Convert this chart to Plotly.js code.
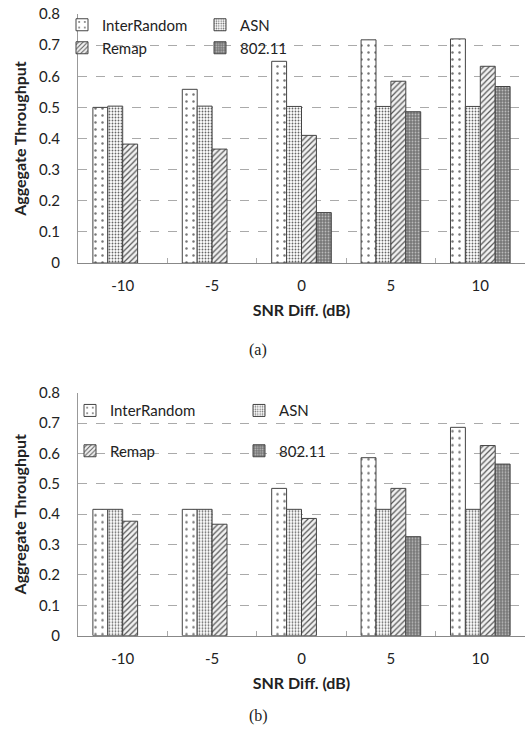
<!DOCTYPE html>
<html>
<head>
<meta charset="utf-8">
<script src="https://cdn.plot.ly/plotly-3.0.1.min.js"></script>
<style>html,body{margin:0;padding:0;background:#fff;}#chart{width:525px;height:736px;}</style>
</head>
<body>
<div id="chart"></div>
<script>
// Categories
const snrDiff = ["-10", "-5", "0", "5", "10"];
const seriesNames = ["InterRandom", "ASN", "Remap", "802.11"];

// Chart (a)
const aInterRandom = [0.500, 0.558, 0.648, 0.717, 0.720];
const aASN         = [0.504, 0.504, 0.503, 0.503, 0.503];
const aRemap       = [0.382, 0.366, 0.410, 0.584, 0.632];
const a80211       = [null, null, 0.162, 0.486, 0.567];

// Chart (b)
const bInterRandom = [0.416, 0.416, 0.485, 0.586, 0.686];
const bASN         = [0.416, 0.416, 0.416, 0.416, 0.416];
const bRemap       = [0.377, 0.367, 0.386, 0.485, 0.626];
const b80211       = [null, null, null, 0.326, 0.565];

const yTickVals = [0, 0.1, 0.2, 0.3, 0.4, 0.5, 0.6, 0.7, 0.8];
const yTickText = ["0", "0.1", "0.2", "0.3", "0.4", "0.5", "0.6", "0.7", "0.8"];

const FONT = "Lato, 'Open Sans', sans-serif";
const lineStyle = {color: "#444", width: 1};
const patterns = [
  {shape: ".", size: 7, solidity: 0.1, fgcolor: "#777", bgcolor: "#fff", fillmode: "replace"},
  {shape: ".", size: 3, solidity: 0.3, fgcolor: "#666", bgcolor: "#fff", fillmode: "replace"},
  {shape: "/", size: 4, solidity: 0.3, fgcolor: "#555", bgcolor: "#f2f2f2", fillmode: "replace"},
  {shape: ".", size: 3, solidity: 0.3, fgcolor: "#bbb", bgcolor: "#777", fillmode: "replace"}
];

function mk(vals, i, xa, ya, leg) {
  return {
    type: "bar", x: snrDiff, y: vals, name: seriesNames[i],
    xaxis: xa, yaxis: ya, legend: leg,
    marker: {color: "#fff", pattern: patterns[i], line: lineStyle},
    hoverinfo: "x+y+name"
  };
}

const data = [
  mk(aInterRandom, 0, "x", "y", "legend"),
  mk(aASN, 1, "x", "y", "legend"),
  mk(aRemap, 2, "x", "y", "legend2"),
  mk(a80211, 3, "x", "y", "legend2"),
  mk(bInterRandom, 0, "x2", "y2", "legend3"),
  mk(bASN, 1, "x2", "y2", "legend3"),
  mk(bRemap, 2, "x2", "y2", "legend4"),
  mk(b80211, 3, "x2", "y2", "legend4")
];

const W = 525, H = 736;
const xDom = [78 / W, 1];
const topDom = [1 - 263 / H, 1 - 14 / H];
const botDom = [1 - 635.7 / H, 1 - 392.7 / H];

function xAxis(anchor, standoff) {
  return {
    domain: xDom, anchor: anchor, type: "category",
    showline: true, linecolor: "#888", linewidth: 1,
    ticks: "inside", tickson: "boundaries", ticklen: 5, tickcolor: "#aaa",
    showgrid: false, zeroline: false,
    tickfont: {family: FONT, size: 15, color: "#222"},
    ticklabelstandoff: 9,
    title: {text: "<b>SNR Diff. (dB)</b>", font: {family: FONT, size: 16, color: "#222"}, standoff: standoff},
    fixedrange: true
  };
}
function yAxis(dom, anchor, title) {
  return {
    domain: dom, anchor: anchor, range: [0, 0.8],
    tickvals: yTickVals, ticktext: yTickText,
    showline: true, linecolor: "#999", linewidth: 1,
    showgrid: true, gridcolor: "#aaa", griddash: "dash", gridwidth: 1,
    zeroline: false, ticks: "",
    tickfont: {family: FONT, size: 15, color: "#222"},
    ticklabelstandoff: 14,
    title: {text: "<b>" + title + "</b>", font: {family: FONT, size: 16, color: "#222"}, standoff: 8},
    fixedrange: true
  };
}
function legend(x, y, ew) {
  return {
    x: x, y: y, xanchor: "left", yanchor: "middle", orientation: "h",
    bgcolor: "rgba(0,0,0,0)", borderwidth: 0,
    font: {family: FONT, size: 15, color: "#222"},
    entrywidth: ew, entrywidthmode: "pixels", itemwidth: 30,
    traceorder: "normal", tracegroupgap: 0
  };
}

const layout = {
  width: W, height: H,
  margin: {l: 0, r: 0, t: 0, b: 0},
  paper_bgcolor: "#fff", plot_bgcolor: "#fff",
  barmode: "group", bargap: 0.333, bargroupgap: 0,
  xaxis: xAxis("y", 11),
  yaxis: yAxis(topDom, "x", "Aggegate Throughput"),
  xaxis2: xAxis("y2", 12),
  yaxis2: yAxis(botDom, "x2", "Aggregate Throughput"),
  legend: legend(62 / W, 1 - 25 / H, 93),
  legend2: legend(62 / W, 1 - 48 / H, 93),
  legend3: legend(70 / W, 1 - 410.7 / H, 124),
  legend4: legend(70 / W, 1 - 451 / H, 124),
  annotations: [
    {text: "(a)", x: 258 / W, y: 1 - 350 / H, xref: "paper", yref: "paper", showarrow: false,
     xanchor: "center", yanchor: "middle",
     font: {family: "'Liberation Serif', serif", size: 16, color: "#222"}},
    {text: "(b)", x: 258 / W, y: 1 - 716 / H, xref: "paper", yref: "paper", showarrow: false,
     xanchor: "center", yanchor: "middle",
     font: {family: "'Liberation Serif', serif", size: 16, color: "#222"}}
  ],
  showlegend: true
};

Plotly.newPlot("chart", data, layout, {displayModeBar: false, staticPlot: true});
</script>
</body>
</html>
